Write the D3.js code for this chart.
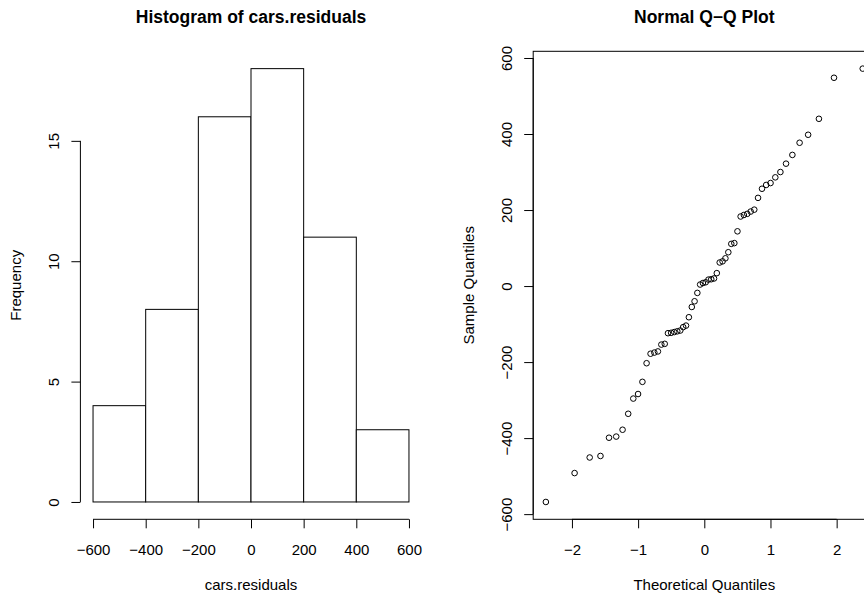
<!DOCTYPE html>
<html>
<head>
<meta charset="utf-8">
<script src="https://cdn.jsdelivr.net/npm/d3@7"></script>
<style>
  body { margin: 0; background: #fff; }
  svg { display: block; font-family: "Liberation Sans", Arial, Helvetica, sans-serif; }
</style>
</head>
<body>
<div id="visualization"></div>
<script>
// Histogram data
const histBreaks = [-600, -400, -200, 0, 200, 400, 600];
const histCounts = [4, 8, 16, 18, 11, 3];
const histXTicks = [-600, -400, -200, 0, 200, 400, 600];
const histYTicks = [0, 5, 10, 15];

// Q-Q data: theoretical normal quantiles for n = 60 and sorted residuals
const theoretical = [
  -2.394, -1.960, -1.732, -1.569, -1.440, -1.331, -1.235, -1.150, -1.073, -1.001,
  -0.935, -0.872, -0.812, -0.755, -0.701, -0.649, -0.598, -0.549, -0.501, -0.454,
  -0.408, -0.363, -0.319, -0.276, -0.233, -0.189, -0.147, -0.105, -0.063, -0.021,
  0.021, 0.063, 0.105, 0.147, 0.189, 0.233, 0.276, 0.319, 0.363, 0.408,
  0.454, 0.501, 0.549, 0.598, 0.649, 0.701, 0.755, 0.812, 0.872, 0.935,
  1.001, 1.073, 1.150, 1.235, 1.331, 1.440, 1.569, 1.732, 1.960, 2.394
];
const residuals = [
  -568, -492, -451, -447, -399, -396, -378, -336, -296, -284,
  -252, -203, -178, -175, -172, -154, -152, -124, -123, -121,
  -119, -117, -108, -104, -82, -55, -40, -18, 4, 8,
  10, 17, 18, 20, 34, 62, 65, 73, 89, 111,
  113, 144, 183, 187, 190, 196, 201, 232, 256, 266,
  271, 286, 300, 322, 345, 377, 398, 440, 548, 572
];
const qqXTicks = [-2, -1, 0, 1, 2];
const qqYTicks = [-600, -400, -200, 0, 200, 400, 600];

document.addEventListener('DOMContentLoaded', () => {
    const width = 864;
    const height = 594;
    const plotTop = 51.3;
    const plotBottom = 519.3;
    const fmt = d3.format('d');

    const svg = d3.select('#visualization')
        .append('svg')
        .attr('width', width)
        .attr('height', height);

    // R-like limits: data range padded by 4% each side
    const rLim = ext => {
        const d = (ext[1] - ext[0]) * 0.04;
        return [ext[0] - d, ext[1] + d];
    };

    // draws an R style axis: line only from first to last tick, ticks out 9px
    function bottomAxis(scale, ticks) {
        const g = svg.append('g')
            .attr('transform', `translate(0,${plotBottom})`)
            .call(d3.axisBottom(scale).tickValues(ticks).tickSize(9).tickPadding(16).tickFormat(fmt));
        g.select('.domain').remove();
        g.append('line')
            .attr('x1', scale(ticks[0])).attr('x2', scale(ticks[ticks.length - 1]))
            .attr('stroke', '#000');
        g.selectAll('text').attr('font-size', 15).attr('fill', '#000').attr('font-family', null);
        g.selectAll('.tick line').attr('stroke', '#000');
        return g;
    }

    function leftAxis(scale, ticks, x0) {
        const g = svg.append('g')
            .attr('transform', `translate(${x0},0)`)
            .call(d3.axisLeft(scale).tickValues(ticks).tickSize(9).tickFormat(fmt));
        g.select('.domain').remove();
        g.append('line')
            .attr('y1', scale(ticks[0])).attr('y2', scale(ticks[ticks.length - 1]))
            .attr('stroke', '#000');
        g.selectAll('.tick line').attr('stroke', '#000');
        g.selectAll('text')
            .attr('font-size', 15).attr('fill', '#000').attr('font-family', null)
            .attr('transform', 'rotate(-90)')
            .attr('x', 0).attr('y', -21).attr('dy', null)
            .attr('text-anchor', 'middle');
        return g;
    }

    function titles(x0, x1, main, xlab, ylab) {
        svg.append('text')
            .attr('x', (x0 + x1) / 2).attr('y', 22.7)
            .attr('text-anchor', 'middle')
            .attr('font-size', 17.5).attr('font-weight', 'bold')
            .text(main);
        svg.append('text')
            .attr('x', (x0 + x1) / 2).attr('y', 590)
            .attr('text-anchor', 'middle')
            .attr('font-size', 15)
            .text(xlab);
        svg.append('text')
            .attr('transform', `translate(${x0 - 59.5},${(plotTop + plotBottom) / 2}) rotate(-90)`)
            .attr('text-anchor', 'middle')
            .attr('font-size', 15)
            .text(ylab);
    }

    // ---- Histogram ----
    const hx = d3.scaleLinear()
        .domain(rLim(d3.extent(histBreaks)))
        .range([80.4, 421.6]);
    const hy = d3.scaleLinear()
        .domain(rLim([0, d3.max(histCounts)]))
        .range([plotBottom, plotTop]);

    svg.append('g')
        .selectAll('rect')
        .data(histCounts)
        .join('rect')
        .attr('x', (d, i) => hx(histBreaks[i]))
        .attr('width', (d, i) => hx(histBreaks[i + 1]) - hx(histBreaks[i]))
        .attr('y', d => hy(d))
        .attr('height', d => hy(0) - hy(d))
        .attr('fill', '#fff')
        .attr('stroke', '#000')
        .attr('stroke-width', 1);

    bottomAxis(hx, histXTicks);
    leftAxis(hy, histYTicks, 80.4);
    titles(80.4, 421.6, 'Histogram of cars.residuals', 'cars.residuals', 'Frequency');

    // ---- Normal Q-Q plot ----
    const qx = d3.scaleLinear()
        .domain(rLim(d3.extent(theoretical)))
        .range([533.2, 875.4]);
    const qy = d3.scaleLinear()
        .domain(rLim(d3.extent(residuals)))
        .range([plotBottom, plotTop]);

    svg.append('rect')
        .attr('x', 533.2).attr('y', plotTop)
        .attr('width', 875.4 - 533.2).attr('height', plotBottom - plotTop)
        .attr('fill', 'none').attr('stroke', '#000');

    svg.append('g')
        .selectAll('circle')
        .data(residuals)
        .join('circle')
        .attr('cx', (d, i) => qx(theoretical[i]))
        .attr('cy', d => qy(d))
        .attr('r', 2.8)
        .attr('fill', 'none')
        .attr('stroke', '#000')
        .attr('stroke-width', 1);

    bottomAxis(qx, qqXTicks);
    leftAxis(qy, qqYTicks, 533.2);
    titles(533.2, 875.4, 'Normal Q\u2212Q Plot', 'Theoretical Quantiles', 'Sample Quantiles');
});
</script>
</body>
</html>
